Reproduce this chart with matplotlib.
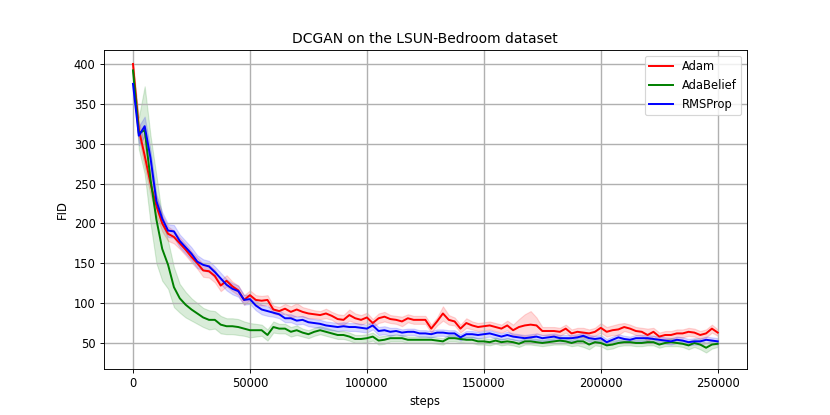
import numpy as np
import matplotlib
matplotlib.use("Agg")
import matplotlib.pyplot as plt

# eval every 2500 steps
steps = np.arange(0, 250001, 2500)

adam = [400, 318, 285, 250, 222, 200, 187, 183, 175, 167,
        158, 150, 141, 140, 134, 122, 128, 121, 116, 104,
        110, 104, 103, 104, 92, 90, 93, 89, 92, 89,
        87, 86, 85, 87, 84, 80, 79, 85, 81, 79,
        82, 75, 81, 83, 80, 79, 77, 81, 79, 79,
        79, 68, 77, 87, 79, 77, 68, 75, 72, 70,
        71, 72, 70, 68, 72, 66, 70, 72, 73, 72,
        65, 65, 65, 64, 68, 62, 64, 63, 62, 64,
        69, 64, 66, 67, 70, 68, 65, 64, 60, 64,
        58, 60, 60, 62, 62, 64, 63, 60, 62, 68,
        63]
adam_std = [3, 10, 14, 14, 12, 10, 9, 8, 7, 7,
            7, 7, 8, 8, 8, 7, 7, 6, 6, 6,
            6, 6, 6, 6, 5, 5, 6, 7, 8, 6,
            6, 5, 5, 6, 5, 6, 6, 7, 6, 6,
            6, 5, 6, 6, 5, 5, 6, 5, 5, 5,
            5, 5, 5, 9, 6, 5, 5, 6, 5, 5,
            5, 5, 5, 5, 6, 7, 10, 14, 17, 10,
            5, 5, 5, 5, 5, 5, 5, 6, 5, 5,
            6, 6, 6, 7, 5, 5, 5, 5, 8, 5,
            5, 5, 5, 5, 5, 5, 5, 5, 5, 5,
            4]

adabelief = [392, 313, 317, 255, 205, 168, 148, 120, 106, 98,
             92, 87, 82, 79, 79, 73, 71, 71, 70, 68,
             66, 66, 66, 60, 70, 68, 68, 64, 66, 63,
             61, 64, 66, 64, 62, 60, 60, 58, 55, 55,
             56, 58, 53, 54, 56, 56, 56, 54, 54, 54,
             54, 54, 53, 52, 56, 56, 55, 54, 54, 52,
             52, 51, 53, 51, 52, 51, 49, 52, 52, 51,
             50, 51, 52, 53, 52, 50, 52, 52, 48, 51,
             50, 47, 48, 50, 51, 51, 50, 50, 51, 51,
             48, 50, 51, 50, 49, 47, 50, 48, 44, 48,
             49]
adabelief_std = [3, 20, 55, 55, 55, 40, 30, 25, 18, 16,
                 14, 13, 12, 12, 11, 11, 10, 10, 10, 9,
                 9, 8, 7, 7, 7, 6, 6, 6, 6, 5,
                 5, 5, 5, 5, 5, 5, 5, 5, 5, 5,
                 5, 5, 5, 5, 4, 4, 4, 4, 4, 4,
                 4, 4, 4, 4, 4, 4, 4, 4, 4, 4,
                 4, 4, 4, 4, 4, 4, 4, 4, 4, 4,
                 4, 4, 4, 5, 4, 4, 5, 7, 6, 4,
                 4, 5, 5, 4, 4, 4, 4, 4, 4, 4,
                 4, 4, 5, 4, 4, 5, 5, 6, 6, 5,
                 4]

rmsprop = [375, 310, 322, 282, 228, 206, 191, 190, 178, 170,
           162, 152, 148, 146, 139, 131, 123, 118, 115, 104,
           105, 97, 92, 90, 88, 86, 81, 81, 78, 79,
           76, 75, 74, 72, 71, 70, 71, 70, 70, 69,
           68, 72, 65, 66, 64, 65, 63, 64, 64, 62,
           62, 61, 63, 63, 62, 62, 57, 61, 61, 60,
           61, 62, 60, 58, 60, 58, 57, 56, 57, 58,
           56, 57, 58, 56, 56, 56, 57, 59, 56, 55,
           56, 51, 54, 57, 55, 54, 56, 56, 56, 55,
           54, 53, 52, 54, 53, 51, 52, 52, 54, 53,
           52]
rmsprop_std = [3, 12, 12, 10, 8, 8, 8, 8, 8, 8,
               8, 8, 7, 7, 7, 7, 7, 7, 7, 6,
               6, 6, 6, 6, 5, 5, 5, 5, 5, 5,
               5, 5, 5, 5, 5, 5, 5, 5, 5, 5,
               5, 5, 5, 5, 5, 4, 4, 4, 4, 4,
               4, 4, 4, 4, 4, 4, 4, 4, 4, 4,
               4, 4, 4, 4, 4, 4, 4, 4, 4, 4,
               4, 4, 4, 4, 4, 4, 4, 4, 4, 4,
               4, 4, 4, 4, 4, 4, 4, 4, 4, 4,
               4, 4, 4, 4, 4, 4, 4, 4, 4, 4,
               4]

series = [("Adam", adam, adam_std, "red"),
          ("AdaBelief", adabelief, adabelief_std, "green"),
          ("RMSProp", rmsprop, rmsprop_std, "blue")]

fig, ax = plt.subplots(figsize=(10, 5), dpi=83)
for name, mean, std, col in series:
    mean = np.array(mean, dtype=float)
    std = np.array(std, dtype=float)
    ax.plot(steps, mean, color=col, linewidth=1.7, label=name)
    ax.fill_between(steps, mean - std, mean + std, color=col, alpha=0.15, linewidth=1)

ax.set_title("DCGAN on the LSUN-Bedroom dataset")
ax.set_xlabel("steps")
ax.set_ylabel("FID")
ax.set_ylim(16.9, 417.8)
ax.grid(True, linewidth=1.2)
ax.legend(loc="upper right")
fig.savefig("out.png")
